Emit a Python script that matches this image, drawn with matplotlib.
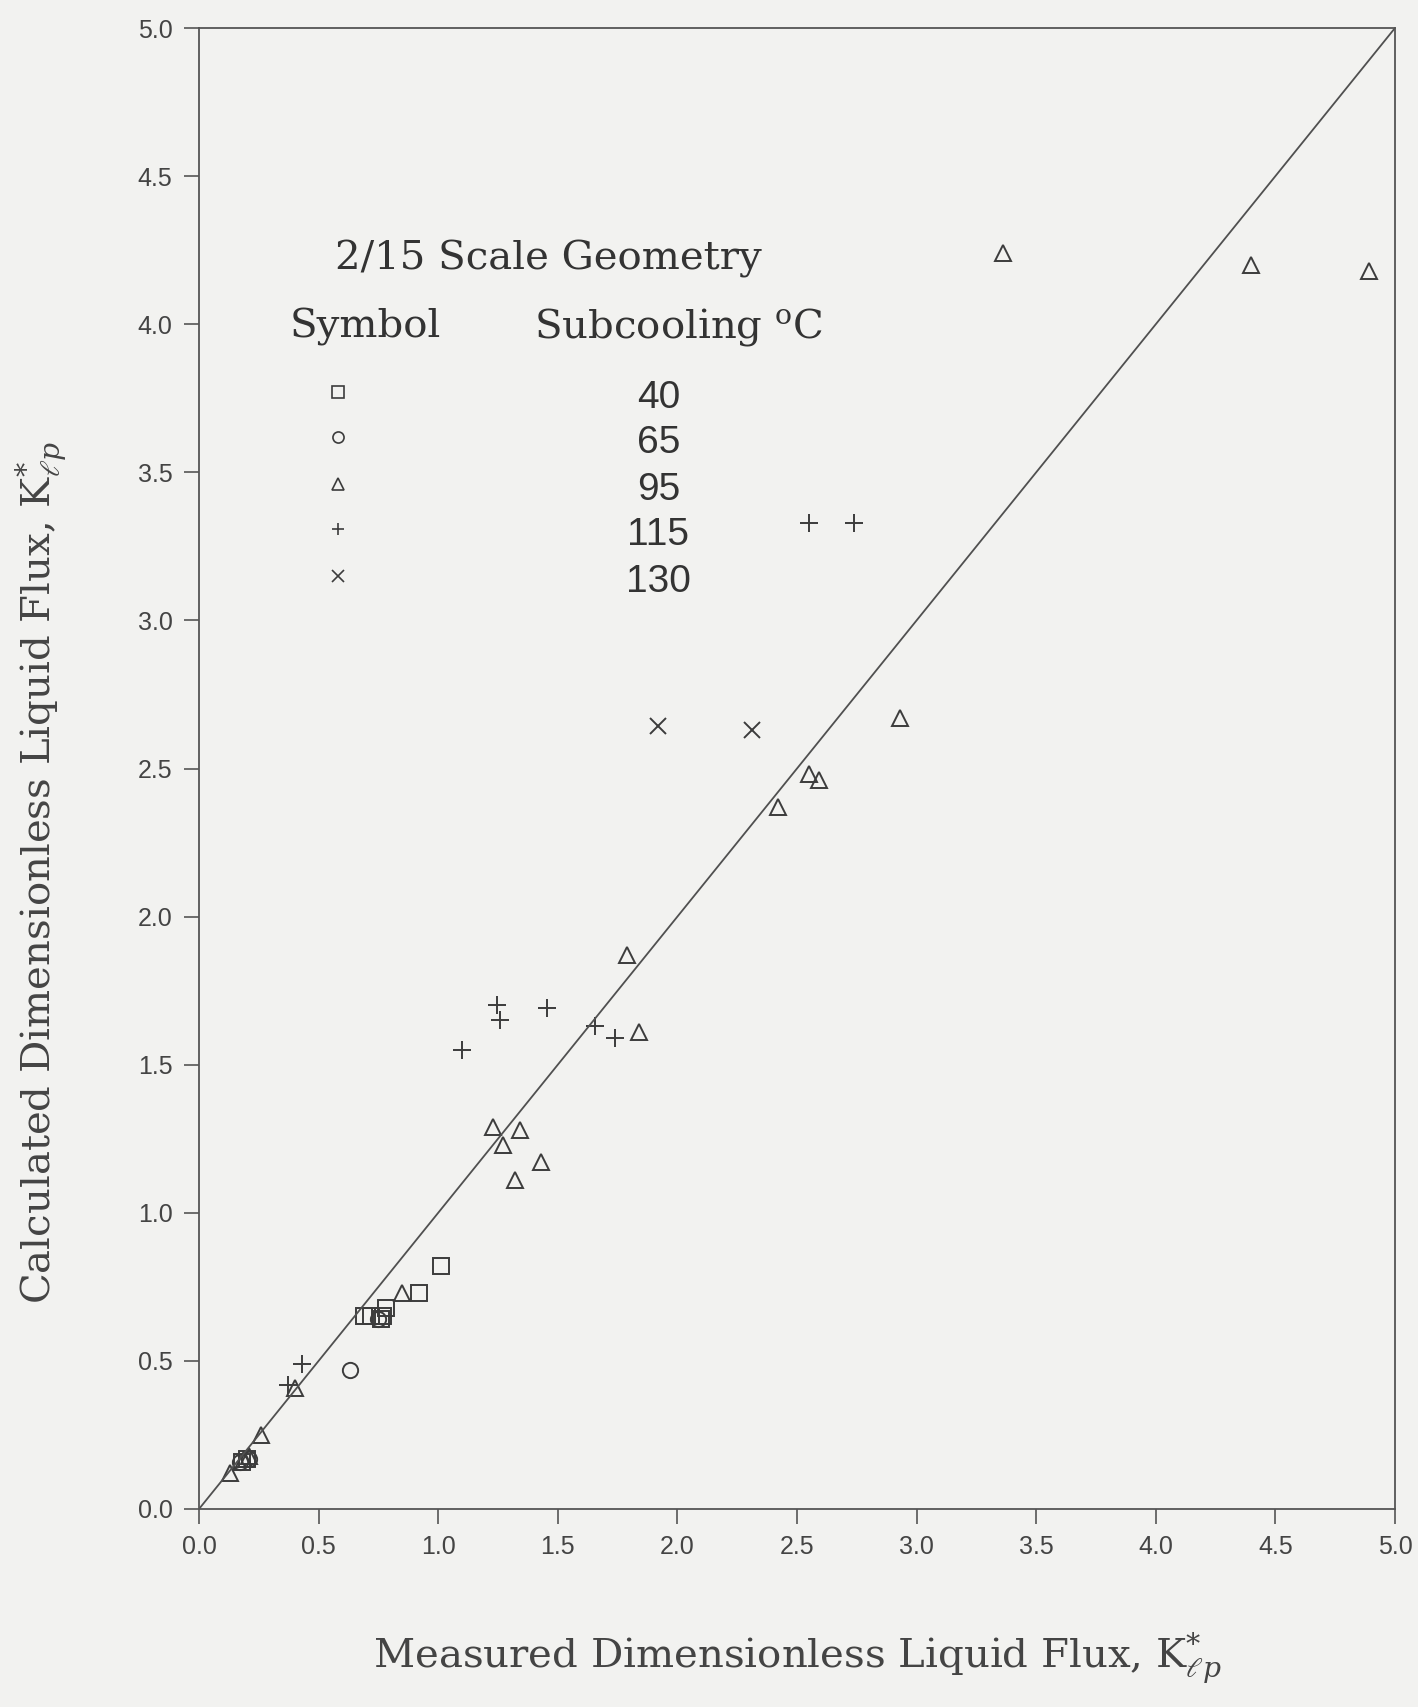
import matplotlib
matplotlib.use("Agg")
import matplotlib.pyplot as plt

plt.rcParams["mathtext.fontset"] = "dejavuserif"

# ---- data ----
sq_x = [1.01, 0.92, 0.78, 0.69, 0.72, 0.76, 0.77, 0.20, 0.18]
sq_y = [0.82, 0.73, 0.68, 0.65, 0.65, 0.64, 0.65, 0.17, 0.16]

ci_x = [0.63, 0.75, 0.21, 0.17]
ci_y = [0.47, 0.64, 0.17, 0.16]

tr_x = [3.36, 4.40, 4.89, 2.93, 2.55, 2.59, 2.42, 1.79, 1.84, 1.23, 1.27,
        1.34, 1.32, 1.43, 0.85, 0.40, 0.26, 0.13, 0.19, 0.21]
tr_y = [4.24, 4.20, 4.18, 2.67, 2.48, 2.46, 2.37, 1.87, 1.61, 1.29, 1.23,
        1.28, 1.11, 1.17, 0.73, 0.41, 0.25, 0.12, 0.17, 0.18]

pl_x = [2.55, 2.74, 1.245, 1.26, 1.10, 1.455, 1.655, 1.74, 0.43, 0.37]
pl_y = [3.33, 3.33, 1.70, 1.65, 1.55, 1.69, 1.63, 1.59, 0.49, 0.42]

xx_x = [1.92, 2.31]
xx_y = [2.645, 2.63]

subcooling = ["40", "65", "95", "115", "130"]
ticks = [0.0, 0.5, 1.0, 1.5, 2.0, 2.5, 3.0, 3.5, 4.0, 4.5, 5.0]
tick_labels = ["0.0", "0.5", "1.0", "1.5", "2.0", "2.5", "3.0", "3.5", "4.0", "4.5", "5.0"]

INK = "#3c3c3c"
BG = "#f2f2f0"

fig = plt.figure(figsize=(14.18, 17.07), dpi=100, facecolor=BG)
W, H = 1418, 1707
L, R, B, T = 199, 1395, 1509, 28
ax = fig.add_axes([L / W, (H - B) / H, (R - L) / W, (B - T) / H])
ax.set_facecolor(BG)

mk = dict(linestyle="none", color=INK, markerfacecolor="none", markeredgewidth=1.4)
ax.plot(sq_x, sq_y, marker="s", markersize=11, **mk)
ax.plot(ci_x, ci_y, marker="o", markersize=11, **mk)
ax.plot(tr_x, tr_y, marker="^", markersize=12, **mk)
ax.plot(pl_x, pl_y, marker="+", markersize=13, **mk)
ax.plot(xx_x, xx_y, marker="x", markersize=11, **mk)

ax.axline((0, 0), slope=1, color="#505050", linewidth=1.3)

ax.set_xlim(0, 5)
ax.set_ylim(0, 5)
ax.set_xticks(ticks)
ax.set_yticks(ticks)
tickfont = dict(family=["Liberation Sans Narrow", "Liberation Sans"], size=18, color="#444444")
ax.set_xticklabels(tick_labels, **tickfont)
ax.set_yticklabels(tick_labels, **tickfont)
ax.tick_params(direction="out", length=11, width=1.2, color="#555555", pad=8)
for s in ax.spines.values():
    s.set_color("#555555")
    s.set_linewidth(1.3)

serif = ["DejaVu Serif"]
ax.set_xlabel(r"Measured Dimensionless Liquid Flux, $\mathrm{K}^{*}_{\ell p}$",
              fontsize=29, family=serif, color="#444444")
ax.xaxis.set_label_coords(0.5, -0.082)
ax.set_ylabel(r"Calculated Dimensionless Liquid Flux, $\mathrm{K}^{*}_{\ell p}$",
              fontsize=29, family=serif, color="#444444")
ax.yaxis.set_label_coords(-0.108, 0.43)

# legend block drawn as text + markers
ax.text(0.57, 4.22, "2/15 Scale Geometry", fontsize=29, family=serif,
        color="#333333", ha="left", va="center")
ax.text(0.38, 3.99, "Symbol", fontsize=29, family=serif, color="#333333",
        ha="left", va="center")
ax.text(1.40, 3.99, r"Subcooling $^{\mathrm{o}}$C", fontsize=29, family=serif,
        color="#333333", ha="left", va="center")

leg_markers = ["s", "o", "^", "+", "x"]
leg_y = [3.77, 3.62, 3.46, 3.31, 3.15]
for m, yv, lab in zip(leg_markers, leg_y, subcooling):
    ax.plot([0.58], [yv], marker=m, markersize=8, linestyle="none", color=INK,
            markerfacecolor="none", markeredgewidth=1.2)
    ax.text(1.92, yv - 0.02, lab, fontsize=28, family=["Liberation Sans", "DejaVu Sans"],
            color="#333333", ha="center", va="center")

fig.savefig("out.png", dpi=100, facecolor=BG)
